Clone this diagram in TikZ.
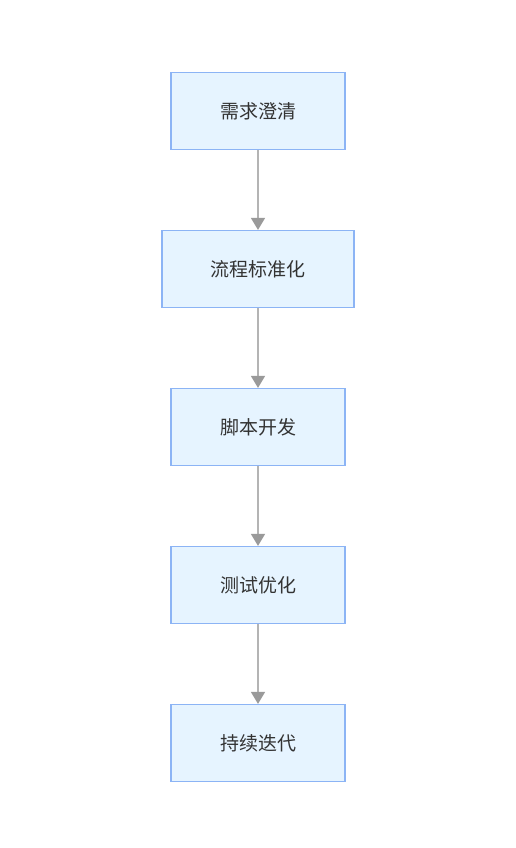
\documentclass[tikz,border=0pt]{standalone}
\usepackage{fontspec}
\newfontfamily\cjk{Noto Sans CJK SC}
\usetikzlibrary{positioning,arrows.meta}
\definecolor{boxfill}{HTML}{E6F4FF}
\definecolor{boxline}{HTML}{8CB4F5}
\definecolor{txtgray}{HTML}{333333}
\definecolor{linegray}{HTML}{B4B4B4}
\definecolor{tipgray}{HTML}{9A9A9A}
\begin{document}
\begin{tikzpicture}[x=1pt,y=1pt,
    stepbox/.style={draw=boxline,fill=boxfill,line width=1.2pt,minimum width=174pt,
      minimum height=77pt,inner sep=0pt,font=\cjk\fontsize{19}{22}\selectfont,text=txtgray},
    flow/.style={draw=linegray,line width=1.6pt,
      -{Triangle[width=14pt,length=12pt,color=tipgray]}},
    node distance=79.8pt]
    \useasboundingbox (0,0) rectangle (515,848);
    \node[stepbox] (req) at (258,737) {需求澄清};
    \node[stepbox,below=of req,minimum width=192pt] (std) {流程标准化};
    \node[stepbox,below=of std] (dev) {脚本开发};
    \node[stepbox,below=of dev] (tst) {测试优化};
    \node[stepbox,below=of tst] (itr) {持续迭代};
    \draw[flow] (req) -- (std);
    \draw[flow] (std) -- (dev);
    \draw[flow] (dev) -- (tst);
    \draw[flow] (tst) -- (itr);
  \end{tikzpicture}
\end{document}
